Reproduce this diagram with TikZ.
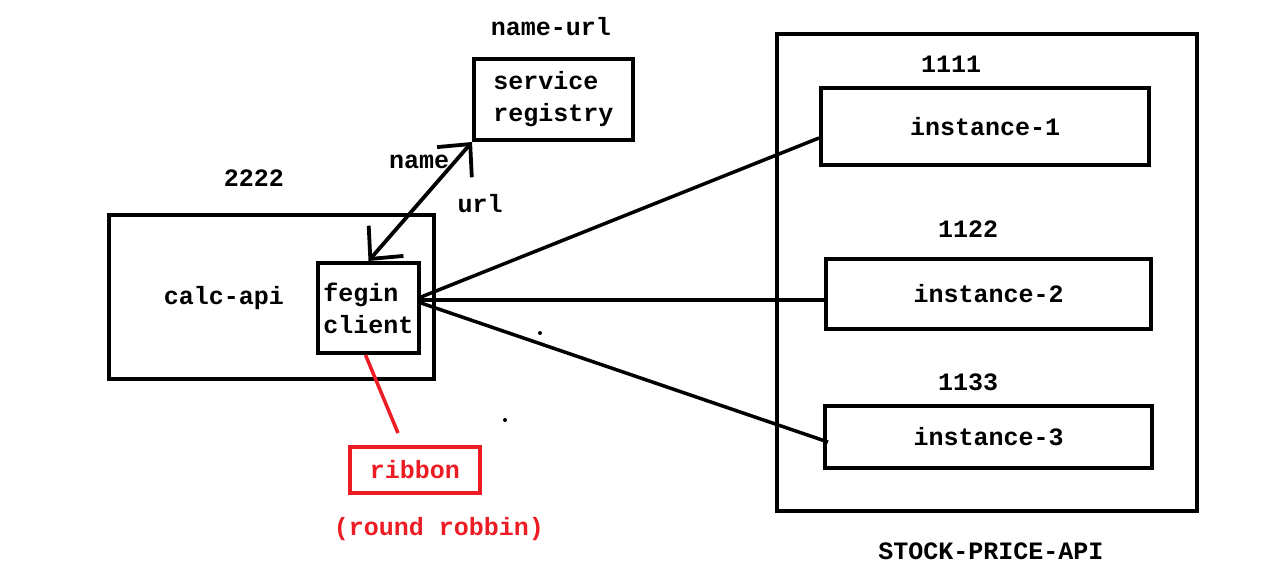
\documentclass[tikz,border=0pt]{standalone}
\usepackage{fontspec}
\newfontfamily\paintfont{Liberation Mono}
\usetikzlibrary{arrows.meta,positioning}
\definecolor{paintred}{RGB}{237,28,36}

\begin{document}
\begin{tikzpicture}[
    x=1pt, y=-1pt,
    every node/.style={font=\paintfont\bfseries\fontsize{25}{32}\selectfont},
    box/.style={rectangle, draw=black, line width=4pt, inner sep=0pt},
    redbox/.style={rectangle, draw=paintred, line width=3.5pt, text=paintred, inner sep=0pt},
    lbl/.style={inner sep=0pt},
    conn/.style={line width=3.5pt},
    arr/.style={{Straight Barb[length=24pt, width=46pt]}-{Straight Barb[length=24pt, width=46pt]}, line width=3.8pt}
]
\useasboundingbox (0,0) rectangle (1276,584);

% client side
\node[box, minimum width=325pt, minimum height=164pt] (calcapi) at (271.5,297) {};
\node[lbl] (calclbl) at (224,298) {calc-api};
\node[lbl] (calcport) at (254,178) {2222};
\node[box, minimum width=101pt, minimum height=90pt, align=left] (fegin) at (368.5,308) {fegin\\client};

% registry
\node[box, minimum width=159pt, minimum height=81pt, align=left] (registry) at (553.5,99.5) {service\\registry};
\node[lbl] (reglbl) at (551,27) {name-url};
\node[lbl] (namelbl) at (419,162) {name};
\node[lbl] (urllbl) at (480,204) {url};

% stock price api
\node[box, minimum width=420pt, minimum height=477pt] (stockapi) at (987,272.5) {};
\node[lbl] (stocklbl) at (991,551) {STOCK-PRICE-API};
\node[box, minimum width=328pt, minimum height=77pt] (inst1) at (985,126.5) {instance-1};
\node[box, minimum width=325pt, minimum height=70pt] (inst2) at (988.5,294) {instance-2};
\node[box, minimum width=327pt, minimum height=62pt] (inst3) at (988.5,437) {instance-3};
\node[lbl] (port1) at (951,64) {1111};
\node[lbl] (port2) at (968,229) {1122};
\node[lbl] (port3) at (968,382) {1133};

% load balancer
\node[redbox, minimum width=130pt, minimum height=46pt] (ribbon) at (415,470) {ribbon};
\node[lbl, text=paintred] (rrlbl) at (439,529) {(round robbin)};
\coordinate (ribtip) at (398,433);

\draw[arr] (fegin.north) -- (registry.south west);
\draw[conn] ([yshift=11pt]fegin.east) -- ([yshift=-11.5pt]inst1.west);
\draw[conn] ([yshift=8pt]fegin.east) -- ([yshift=-6pt]inst2.west);
\draw[conn] ([yshift=5pt]fegin.east) -- ([xshift=5pt, yshift=-5pt]inst3.west);
\draw[conn, paintred] ([xshift=-3pt]fegin.south) -- (ribtip);

\fill (540,333) circle (2pt);
\fill (505,420) circle (2pt);
\end{tikzpicture}
\end{document}
